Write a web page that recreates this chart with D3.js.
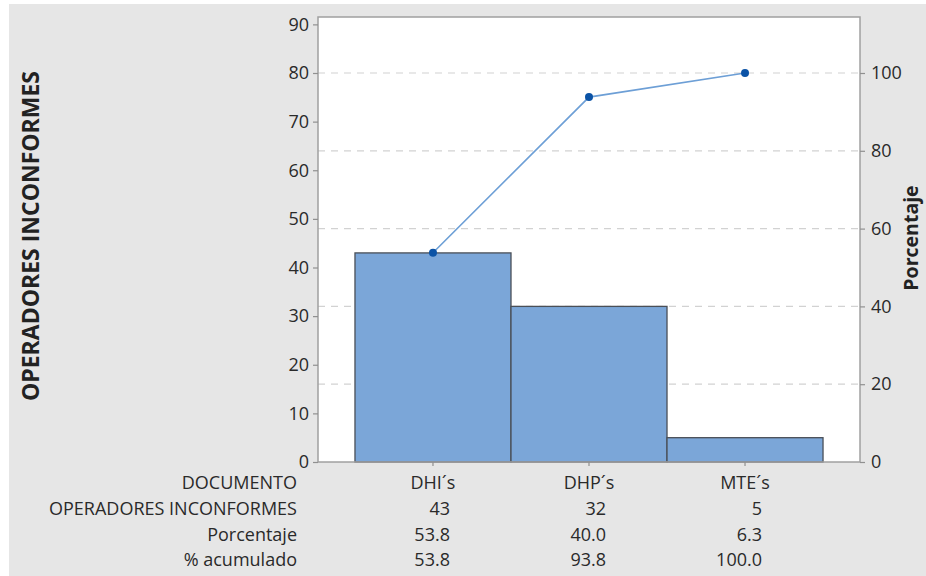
<!DOCTYPE html>
<html><head><meta charset="utf-8">
<script src="https://cdn.jsdelivr.net/npm/d3@7"></script>
<style>
html,body{margin:0;padding:0;background:#fff;}
svg text{font-family:"Open Sans","Noto Sans",sans-serif;}
</style></head>
<body>
<script>
const categories = ["DHI´s", "DHP´s", "MTE´s"];
const counts = [43, 32, 5];
const percents = [53.8, 40.0, 6.3];
const cumulative = [53.8, 93.8, 100.0];
const leftTicks = [0,10,20,30,40,50,60,70,80,90];
const rightTicks = [0,20,40,60,80,100];
const rowLabels = ["DOCUMENTO", "OPERADORES INCONFORMES", "Porcentaje", "% acumulado"];
const countFmt = ["43","32","5"];
const pctFmt = ["53.8","40.0","6.3"];
const cumFmt = ["53.8","93.8","100.0"];

const W = 926, H = 576;
const FS = 18;
const TXT = "#2a2a2a";
const svg = d3.select("body").append("svg").attr("width", W).attr("height", H);
svg.append("rect").attr("x",9).attr("y",4).attr("width",W-9).attr("height",H-4).attr("fill","#e6e6e6");

const L = 318, R = 860, T = 17, B = 462;
const x = d3.scaleBand().domain(categories).range([L, R]).paddingInner(0).paddingOuter(0.237);
const yL = d3.scaleLinear().domain([0, 80]).range([B, 73]);
const yR = d3.scaleLinear().domain([0, 100]).range([B, 73]);

svg.append("rect").attr("x",L).attr("y",T).attr("width",R-L).attr("height",B-T).attr("fill","#fff");

// gridlines
svg.append("g").selectAll("line").data(rightTicks.filter(d=>d>0)).join("line")
  .attr("x1",L).attr("x2",R).attr("y1",d=>yR(d)).attr("y2",d=>yR(d))
  .attr("stroke","#d2d2d2").attr("stroke-width",1.2).attr("stroke-dasharray","7,6");

// bars
svg.append("g").selectAll("rect").data(categories).join("rect")
  .attr("x",d=>x(d)).attr("width",x.bandwidth())
  .attr("y",(d,i)=>yL(counts[i])).attr("height",(d,i)=>B-yL(counts[i]))
  .attr("fill","#7ba6d8").attr("stroke","#4a4f57").attr("stroke-width",1.3);

// frame
svg.append("rect").attr("x",L).attr("y",T).attr("width",R-L).attr("height",B-T)
  .attr("fill","none").attr("stroke","#a0a0a0").attr("stroke-width",1.5);

// cumulative line
const cx = d => x(d) + x.bandwidth()/2;
const line = d3.line().x((d,i)=>cx(categories[i])).y(d=>yR(d));
svg.append("path").datum(cumulative).attr("d",line).attr("fill","none")
  .attr("stroke","#6d9fd6").attr("stroke-width",1.6);
svg.append("g").selectAll("circle").data(cumulative).join("circle")
  .attr("cx",(d,i)=>cx(categories[i])).attr("cy",d=>yR(d)).attr("r",4)
  .attr("fill","#0b53a6");

// axes
const axL = svg.append("g").attr("transform",`translate(${L},0)`)
  .call(d3.axisLeft(yL).tickValues(leftTicks).tickSize(5).tickPadding(4));
const axR = svg.append("g").attr("transform",`translate(${R},0)`)
  .call(d3.axisRight(yR).tickValues(rightTicks).tickSize(5).tickPadding(6));
const axB = svg.append("g").attr("transform",`translate(0,${B})`)
  .call(d3.axisBottom(x).tickSize(4).tickFormat(""));
[axL,axR,axB].forEach(a=>{
  a.select(".domain").remove();
  a.selectAll(".tick line").attr("stroke","#909090").attr("stroke-width",1.2);
  a.selectAll(".tick text").attr("font-size",FS).attr("fill",TXT);
});

// axis titles
svg.append("text").attr("transform","translate(39,236) rotate(-90)")
  .attr("text-anchor","middle").attr("font-size",23).attr("font-weight","bold")
  .attr("fill","#222").text("OPERADORES INCONFORMES");
svg.append("text").attr("transform","translate(918,238) rotate(-90)")
  .attr("text-anchor","middle").attr("font-size",19.5).attr("font-weight","bold")
  .attr("fill","#222").text("Porcentaje");

// table
const rowY = [489, 515, 541, 566];
svg.append("g").selectAll("text").data(rowLabels).join("text")
  .attr("x",297).attr("y",(d,i)=>rowY[i]).attr("text-anchor","end")
  .attr("font-size",FS).attr("fill",TXT).text(d=>d);
svg.append("g").selectAll("text").data(categories).join("text")
  .attr("x",d=>cx(d)).attr("y",rowY[0]).attr("text-anchor","middle")
  .attr("font-size",FS).attr("fill",TXT).text(d=>d);
[countFmt,pctFmt,cumFmt].forEach((arr,r)=>{
  svg.append("g").selectAll("text").data(arr).join("text")
    .attr("x",(d,i)=>cx(categories[i])+17).attr("y",rowY[r+1]).attr("text-anchor","end")
    .attr("font-size",FS).attr("fill",TXT).text(d=>d);
});
</script>
</body></html>
